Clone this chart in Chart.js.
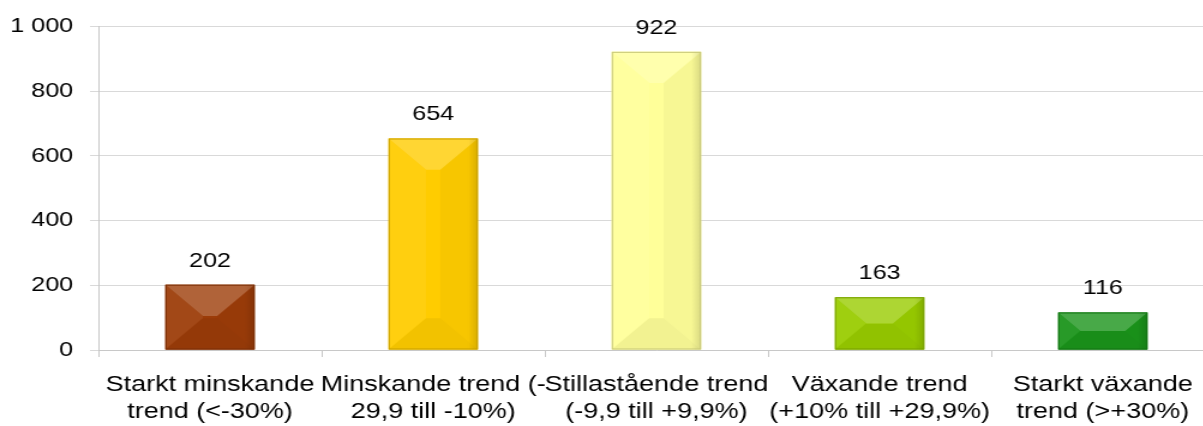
<!DOCTYPE html>
<html lang="sv">
<head>
<meta charset="UTF-8">
<title>Trend</title>
<script src="https://cdn.jsdelivr.net/npm/chart.js"></script>
<style>
    html, body { margin: 0; padding: 0; background: #fff; overflow: hidden; }
    /* the reference text is stretched sideways, so the chart is drawn narrow and scaled */
    #wrap { width: 1014px; height: 426px; transform: scaleX(1.2); transform-origin: 0 0; }
</style>
</head>
<body>
<div id="wrap"><canvas id="trendChart" width="1014" height="426"></canvas></div>
<script>
const categories = [
    ['Starkt minskande', 'trend (<-30%)'],
    ['Minskande trend (-', '29,9 till -10%)'],
    ['Stillastående trend', '(-9,9 till +9,9%)'],
    ['Växande trend', '(+10% till +29,9%)'],
    ['Starkt växande', 'trend (>+30%)']
];
const values = [202, 654, 922, 163, 116];
const yTicks = [0, 200, 400, 600, 800, 1000];

const barColors = ['#9c3c08', '#ffcc00', '#ffff99', '#99cc00', '#1a941a'];

// mix a hex colour with white (amt > 0) or black (amt < 0)
function shade(hex, amt) {
    const n = parseInt(hex.slice(1), 16);
    let r = n >> 16, g = (n >> 8) & 255, b = n & 255;
    const t = amt < 0 ? 0 : 255, p = Math.abs(amt);
    r = Math.round(r + (t - r) * p);
    g = Math.round(g + (t - g) * p);
    b = Math.round(b + (t - b) * p);
    return 'rgb(' + r + ',' + g + ',' + b + ')';
}

const FONT_FAMILY = "'Liberation Sans', Arial, sans-serif";
const TICK_FONT = { family: FONT_FAMILY, size: 21 };
const CAT_FONT = { family: FONT_FAMILY, size: 22.5, lineHeight: 1.2 };

// bevelled faces on top of each bar
const bevelPlugin = {
    id: 'bevel',
    afterDatasetsDraw(chart) {
        const ctx = chart.ctx;
        const meta = chart.getDatasetMeta(0);
        meta.data.forEach((bar, i) => {
            const p = bar.getProps(['x', 'y', 'base', 'width'], true);
            const l = p.x - p.width / 2, r = p.x + p.width / 2;
            const t = Math.min(p.y, p.base), b = Math.max(p.y, p.base);
            const h = b - t;
            const d = Math.min(h / 2, p.width * 0.42);
            const c = barColors[i];
            const poly = (pts, fill) => {
                ctx.beginPath();
                ctx.moveTo(pts[0][0], pts[0][1]);
                for (let k = 1; k < pts.length; k++) ctx.lineTo(pts[k][0], pts[k][1]);
                ctx.closePath();
                ctx.fillStyle = fill;
                ctx.fill();
            };
            ctx.save();
            poly([[l, t], [l + d, t + d], [l + d, b - d], [l, b]], shade(c, 0.06));
            poly([[r, t], [r - d, t + d], [r - d, b - d], [r, b]], shade(c, -0.03));
            poly([[l, b], [r, b], [r - d, b - d], [l + d, b - d]], shade(c, -0.05));
            poly([[l, t], [r, t], [r - d, t + d], [l + d, t + d]], shade(c, 0.2));
            // darker strip along the right edge
            const g = ctx.createLinearGradient(r - 8, 0, r, 0);
            g.addColorStop(0, 'rgba(0,0,0,0)');
            g.addColorStop(1, 'rgba(0,0,0,0.12)');
            ctx.fillStyle = g;
            ctx.fillRect(r - 8, t, 8, h);
            ctx.strokeStyle = shade(c, -0.22);
            ctx.lineWidth = 1;
            ctx.strokeRect(l + 0.5, t + 0.5, p.width - 1, h - 1);
            ctx.restore();
        });
    }
};

// value labels above bars
const valueLabels = {
    id: 'valueLabels',
    afterDatasetsDraw(chart) {
        const ctx = chart.ctx;
        const meta = chart.getDatasetMeta(0);
        ctx.save();
        ctx.font = TICK_FONT.size + 'px ' + FONT_FAMILY;
        ctx.fillStyle = '#000';
        ctx.textAlign = 'center';
        ctx.textBaseline = 'alphabetic';
        meta.data.forEach((bar, i) => {
            ctx.fillText(String(values[i]), bar.x, bar.y - 18);
        });
        ctx.restore();
    }
};

const ctx = document.getElementById('trendChart').getContext('2d');
new Chart(ctx, {
    type: 'bar',
    data: {
        labels: categories,
        datasets: [{
            data: values,
            backgroundColor: barColors,
            borderWidth: 0,
            barPercentage: 0.40,
            categoryPercentage: 1.0
        }]
    },
    options: {
        responsive: false,
        animation: false,
        devicePixelRatio: 1,
        layout: { padding: { top: 25, right: 2, left: 0, bottom: 0 } },
        plugins: {
            legend: { display: false },
            tooltip: { enabled: false }
        },
        scales: {
            x: {
                offset: true,
                grid: {
                    offset: true,
                    drawOnChartArea: false,
                    color: '#c8c8c8',
                    tickLength: 7
                },
                border: { color: '#c8c8c8' },
                ticks: {
                    font: CAT_FONT,
                    color: '#000',
                    autoSkip: false,
                    maxRotation: 0,
                    padding: 14
                },
                afterFit(scale) { scale.height = 76; }
            },
            y: {
                min: 0,
                max: 1000,
                afterBuildTicks(scale) { scale.ticks = yTicks.map(v => ({ value: v })); },
                grid: { color: '#d9d9d9', tickLength: 7 },
                border: { color: '#c8c8c8' },
                ticks: {
                    font: TICK_FONT,
                    color: '#000',
                    padding: 14,
                    callback: v => String(v).replace(/\B(?=(\d{3})+(?!\d))/g, ' ')
                },
                afterFit(scale) { scale.width = 82; }
            }
        }
    },
    plugins: [bevelPlugin, valueLabels]
});
</script>
</body>
</html>
